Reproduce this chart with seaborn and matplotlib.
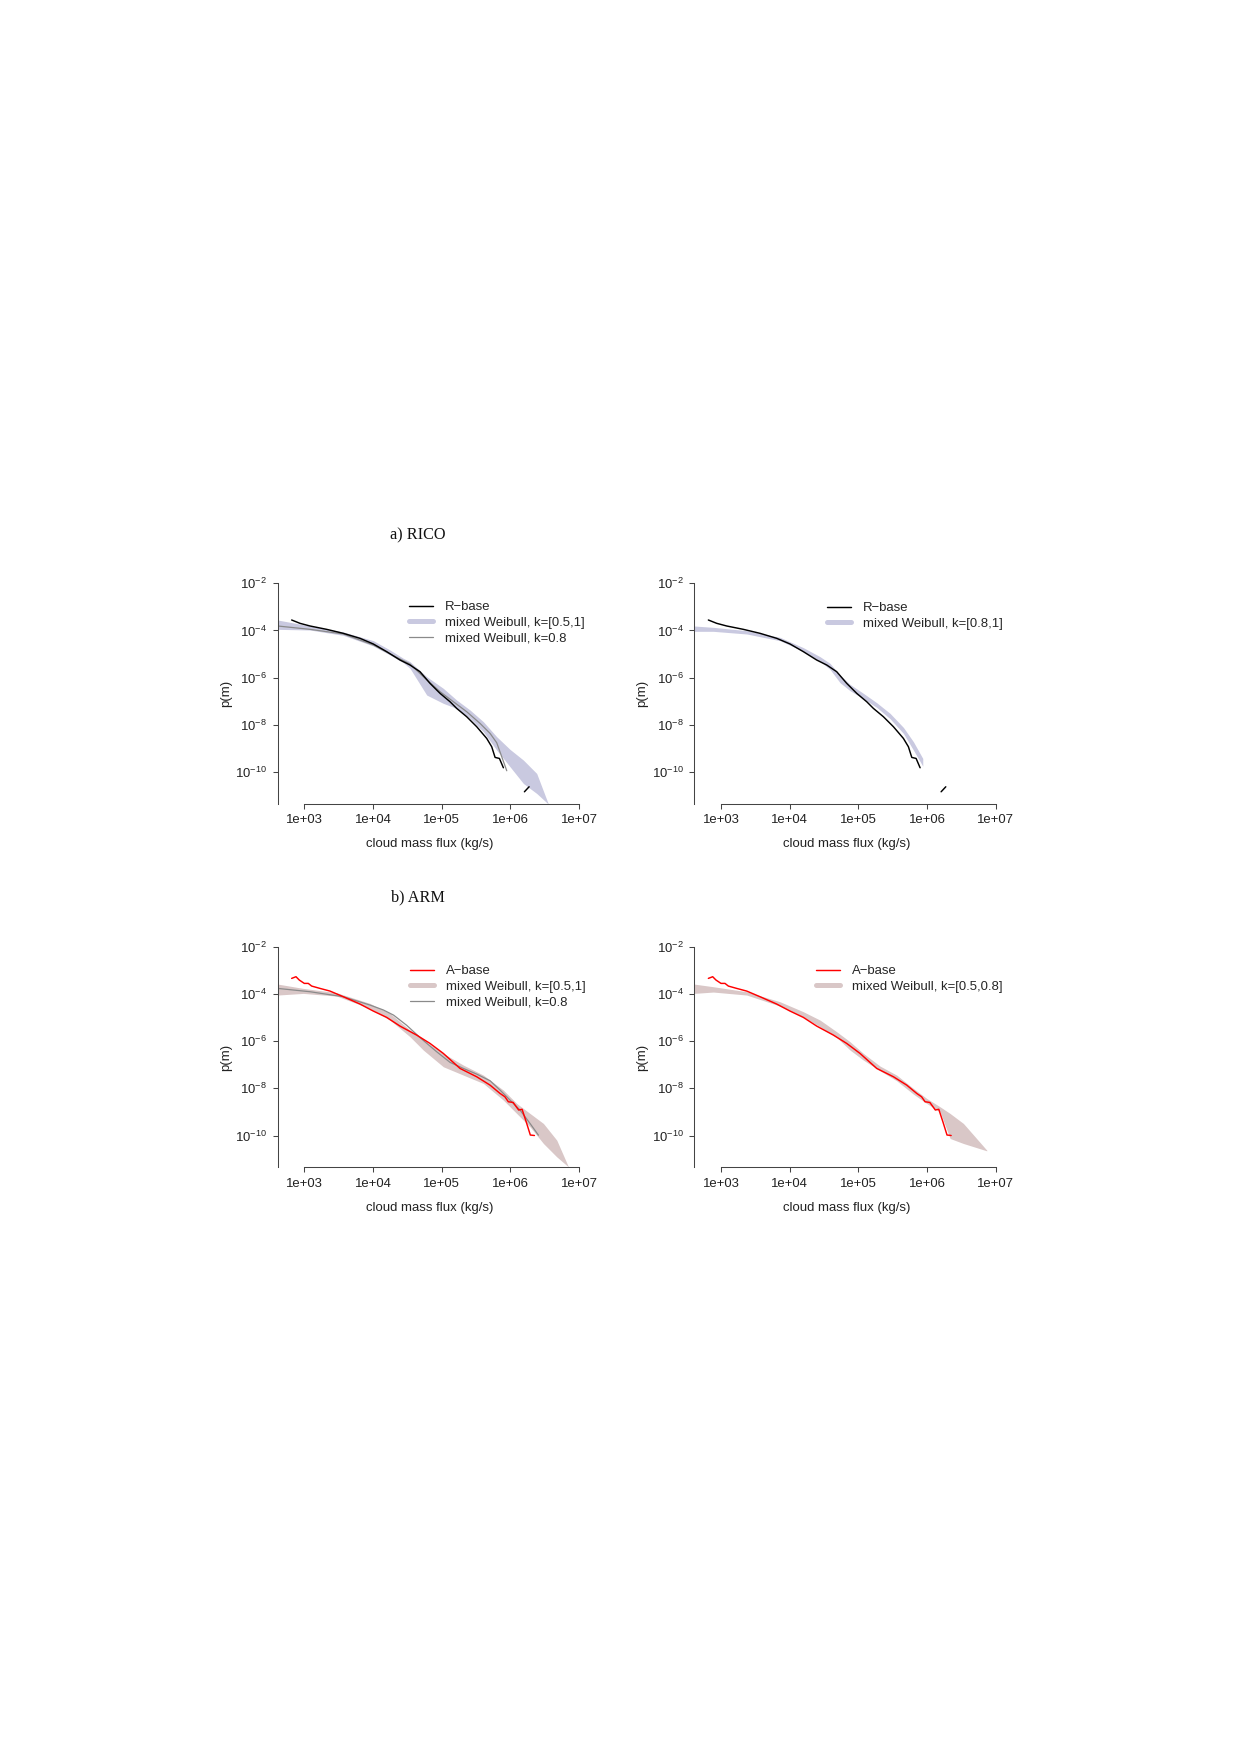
import numpy as np
import pandas as pd
import seaborn as sns
import matplotlib.pyplot as plt
from matplotlib.lines import Line2D

# all values are log10 numbers
# x = log10(cloud mass flux, kg/s), y = log10(p(m))

# --- RICO ---
rbase_x = [2.816, 2.937, 3.083, 3.325, 3.568, 3.811, 4.005, 4.199, 4.393, 4.539, 4.684,
           4.830, 4.976, 5.121, 5.218, 5.364, 5.510, 5.655, 5.728, 5.777, 5.840, 5.898]
rbase_y = [-3.555, -3.696, -3.809, -3.951, -4.120, -4.332, -4.572, -4.897, -5.251, -5.463, -5.746,
           -6.240, -6.664, -7.018, -7.300, -7.654, -8.078, -8.572, -8.926, -9.378, -9.421, -9.816]
rbase_tail_x = [6.204, 6.272]
rbase_tail_y = [-10.834, -10.622]

rico_k08_x = [2.612, 3.083, 3.568, 4.005, 4.345, 4.539, 4.733, 4.976, 5.170, 5.364, 5.558,
              5.704, 5.801, 5.874, 5.947]
rico_k08_y = [-3.809, -3.951, -4.148, -4.615, -5.138, -5.420, -5.958, -6.594, -7.018, -7.442, -7.936,
              -8.360, -8.756, -9.350, -9.943]

rico_band1_x = [2.612, 3.083, 3.568, 4.005, 4.248, 4.442, 4.539, 4.782, 5.024, 5.218, 5.413,
                5.607, 5.801, 5.995, 6.189, 6.383, 6.553]
rico_band1_hi = [-3.555, -3.809, -4.064, -4.431, -4.827, -5.180, -5.322, -5.958, -6.452, -6.947, -7.371,
                 -7.866, -8.502, -9.039, -9.491, -10.057, -11.357]
rico_band1_lo = [-3.951, -3.979, -4.205, -4.657, -5.039, -5.364, -5.604, -6.735, -7.088, -7.300, -7.724,
                 -8.290, -9.067, -9.774, -10.481, -10.905, -11.357]

rico_band2_x = [2.607, 2.888, 3.374, 3.859, 4.199, 4.442, 4.587, 4.733, 4.879, 5.073, 5.267,
                5.461, 5.655, 5.801, 5.937]
rico_band2_hi = [-3.809, -3.866, -4.007, -4.290, -4.728, -5.110, -5.392, -5.887, -6.283, -6.664, -7.060,
                 -7.512, -8.106, -8.714, -9.420]
rico_band2_lo = [-4.035, -4.035, -4.148, -4.431, -4.883, -5.307, -5.647, -6.212, -6.551, -6.890, -7.258,
                 -7.739, -8.360, -9.067, -9.746]

# --- ARM ---
abase_x = [2.816, 2.879, 2.927, 3.000, 3.058, 3.107, 3.228, 3.374, 3.568, 3.811, 4.005, 4.199,
           4.393, 4.636, 4.830, 5.024, 5.267, 5.510, 5.704, 5.850, 5.920, 5.970, 6.040, 6.120,
           6.170, 6.230, 6.290, 6.350]
abase_y = [-3.343, -3.272, -3.413, -3.555, -3.555, -3.668, -3.767, -3.880, -4.120, -4.431, -4.728, -4.996,
           -5.364, -5.746, -6.099, -6.523, -7.159, -7.512, -7.866, -8.219, -8.360, -8.570, -8.600, -8.920,
           -8.890, -9.420, -9.980, -10.000]

arm_k08_x = [2.612, 3.083, 3.568, 3.956, 4.150, 4.300, 4.490, 4.684, 4.927, 5.121, 5.316, 5.510,
             5.704, 5.850, 5.995, 6.141, 6.286, 6.408]
arm_k08_y = [-3.767, -3.908, -4.120, -4.473, -4.680, -4.900, -5.330, -5.850, -6.452, -6.900, -7.159, -7.400,
             -7.680, -8.078, -8.502, -8.926, -9.491, -9.986]

arm_band1_x = [2.612, 2.985, 3.471, 3.956, 4.248, 4.539, 4.733, 5.024, 5.316, 5.607, 5.898,
               6.092, 6.286, 6.481, 6.675, 6.845]
arm_band1_hi = [-3.583, -3.767, -3.951, -4.403, -4.827, -5.534, -5.958, -6.523, -7.018, -7.442, -8.078,
                -8.643, -9.067, -9.491, -10.198, -11.329]
arm_band1_lo = [-4.049, -3.979, -4.092, -4.615, -5.110, -5.816, -6.382, -7.088, -7.442, -7.795, -8.502,
                -9.067, -9.633, -10.339, -10.905, -11.329]

arm_band2_x = [2.607, 2.888, 3.374, 3.859, 4.199, 4.442, 4.684, 4.879, 5.073, 5.316, 5.558,
               5.801, 5.995, 6.189, 6.335, 6.529, 6.869]
arm_band2_hi = [-3.583, -3.696, -3.908, -4.332, -4.756, -5.110, -5.604, -6.028, -6.523, -7.060, -7.442,
                -8.007, -8.431, -8.784, -9.067, -9.491, -10.622]
arm_band2_lo = [-3.979, -3.922, -4.049, -4.516, -4.968, -5.392, -5.845, -6.382, -6.806, -7.258, -7.682,
                -8.247, -8.643, -8.996, -10.127, -10.339, -10.650]

xtick_labels = ["1e+03", "1e+04", "1e+05", "1e+06", "1e+07"]
ytick_exps = [-2, -4, -6, -8, -10]

col_blue = "#c9c9e0"
col_brown = "#d9c7c7"
col_grey = "#8a8a8a"

sns.set_theme(style="ticks")
plt.rcParams["font.family"] = ["Liberation Sans", "DejaVu Sans"]
plt.rcParams["mathtext.fontset"] = "custom"
plt.rcParams["mathtext.rm"] = "Liberation Sans"

W, H, DPI = 1240, 1755, 150
fig = plt.figure(figsize=(W / DPI, H / DPI), dpi=DPI)

XL = (2.61, 7.045)
YL = (-11.35, -2.0)
DEC_X, DEC_Y = 68.7, 23.6
FS = 6.3
LW = 0.7


def make_ax(x1e3_px, ytop_px):
    x0 = x1e3_px - (3 - XL[0]) * DEC_X
    w = (XL[1] - XL[0]) * DEC_X
    h = (YL[1] - YL[0]) * DEC_Y
    ax = fig.add_axes([x0 / W, 1 - (ytop_px + h) / H, w / W, h / H])
    ax.set_xscale("log")
    ax.set_yscale("log")
    ax.set_xlim(10 ** XL[0], 10 ** XL[1])
    ax.set_ylim(10 ** YL[0], 10 ** YL[1])
    ax.set_xticks([10.0 ** k for k in range(3, 8)])
    ax.set_xticklabels(xtick_labels)
    ax.set_yticks([10.0 ** e for e in ytick_exps])
    ax.set_yticklabels([r"$\mathregular{10^{%d}}$" % e for e in ytick_exps])
    ax.minorticks_off()
    ax.tick_params(length=2.4, width=0.5, pad=2.6, labelsize=FS, colors="#222222")
    ax.tick_params(axis="both", which="both", color="#444444")
    sns.despine(ax=ax)
    for s in ["left", "bottom"]:
        ax.spines[s].set_linewidth(0.5)
        ax.spines[s].set_color("#444444")
    ax.spines["bottom"].set_bounds(1e3, 1e7)
    return ax


def band(ax, xs, lo, hi, color):
    ax.fill_between(10 ** np.array(xs), 10 ** np.array(lo), 10 ** np.array(hi),
                    color=color, lw=0)


def line(ax, xs, ys, color, lw):
    df = pd.DataFrame({"x": 10 ** np.array(xs), "y": 10 ** np.array(ys)})
    sns.lineplot(data=df, x="x", y="y", ax=ax, color=color, lw=lw,
                 estimator=None, sort=False, legend=False)


def base(ax, xs, ys, color, tail=None):
    df = pd.DataFrame({"x": xs, "y": ys, "seg": 0})
    if tail is not None:
        df = pd.concat([df, pd.DataFrame({"x": tail[0], "y": tail[1], "seg": 1})])
    df["x"] = 10 ** df["x"]
    df["y"] = 10 ** df["y"]
    sns.lineplot(data=df, x="x", y="y", units="seg", ax=ax, color=color, lw=LW,
                 estimator=None, sort=False, legend=False)


def legend(ax, handles, labels, x_px, y_px):
    ax.legend(handles, labels, loc="upper left", bbox_to_anchor=(x_px / W, 1 - y_px / H),
              bbox_transform=fig.transFigure, frameon=False, fontsize=FS,
              borderpad=0, borderaxespad=0, handlelength=1.85, handletextpad=0.9,
              labelspacing=0.27)


band_handle = lambda c: Line2D([], [], color=c, lw=2.4, solid_capstyle="round")

# a) RICO, left
ax1 = make_ax(304.3, 583.3)
band(ax1, rico_band1_x, rico_band1_lo, rico_band1_hi, col_blue)
line(ax1, rico_k08_x, rico_k08_y, col_grey, 0.6)
base(ax1, rbase_x, rbase_y, "black", (rbase_tail_x, rbase_tail_y))
legend(ax1, [Line2D([], [], color="black", lw=LW), band_handle(col_blue),
             Line2D([], [], color=col_grey, lw=0.6)],
       ["R\u2212base", "mixed Weibull, k=[0.5,1]", "mixed Weibull, k=0.8"], 409, 601)

# a) RICO, right
ax2 = make_ax(721.0, 583.3)
band(ax2, rico_band2_x, rico_band2_lo, rico_band2_hi, col_blue)
base(ax2, rbase_x, rbase_y, "black", (rbase_tail_x, rbase_tail_y))
legend(ax2, [Line2D([], [], color="black", lw=LW), band_handle(col_blue)],
       ["R\u2212base", "mixed Weibull, k=[0.8,1]"], 827, 602)

# b) ARM, left
ax3 = make_ax(304.3, 946.7)
band(ax3, arm_band1_x, arm_band1_lo, arm_band1_hi, col_brown)
line(ax3, arm_k08_x, arm_k08_y, col_grey, 0.6)
base(ax3, abase_x, abase_y, "#ff0000")
legend(ax3, [Line2D([], [], color="#ff0000", lw=LW), band_handle(col_brown),
             Line2D([], [], color=col_grey, lw=0.6)],
       ["A\u2212base", "mixed Weibull, k=[0.5,1]", "mixed Weibull, k=0.8"], 410, 965)

# b) ARM, right
ax4 = make_ax(721.0, 946.7)
band(ax4, arm_band2_x, arm_band2_lo, arm_band2_hi, col_brown)
base(ax4, abase_x, abase_y, "#ff0000")
legend(ax4, [Line2D([], [], color="#ff0000", lw=LW), band_handle(col_brown)],
       ["A\u2212base", "mixed Weibull, k=[0.5,0.8]"], 816, 965)

for a in [ax1, ax2, ax3, ax4]:
    a.set_xlabel("cloud mass flux (kg/s)", fontsize=FS, color="#222222")
    a.set_ylabel("p(m)", fontsize=FS, color="#222222")
    a.xaxis.set_label_coords(0.5, -0.155)
    a.yaxis.set_label_coords(-0.15, 0.5)

serif = ["Liberation Serif", "DejaVu Serif"]
fig.text(417.5 / W, 1 - 535 / H, "a) RICO", family=serif, fontsize=7.8,
         ha="center", va="center", color="#111111")
fig.text(417.5 / W, 1 - 897.3 / H, "b) ARM", family=serif, fontsize=7.8,
         ha="center", va="center", color="#111111")

fig.savefig("out.png", dpi=DPI)
